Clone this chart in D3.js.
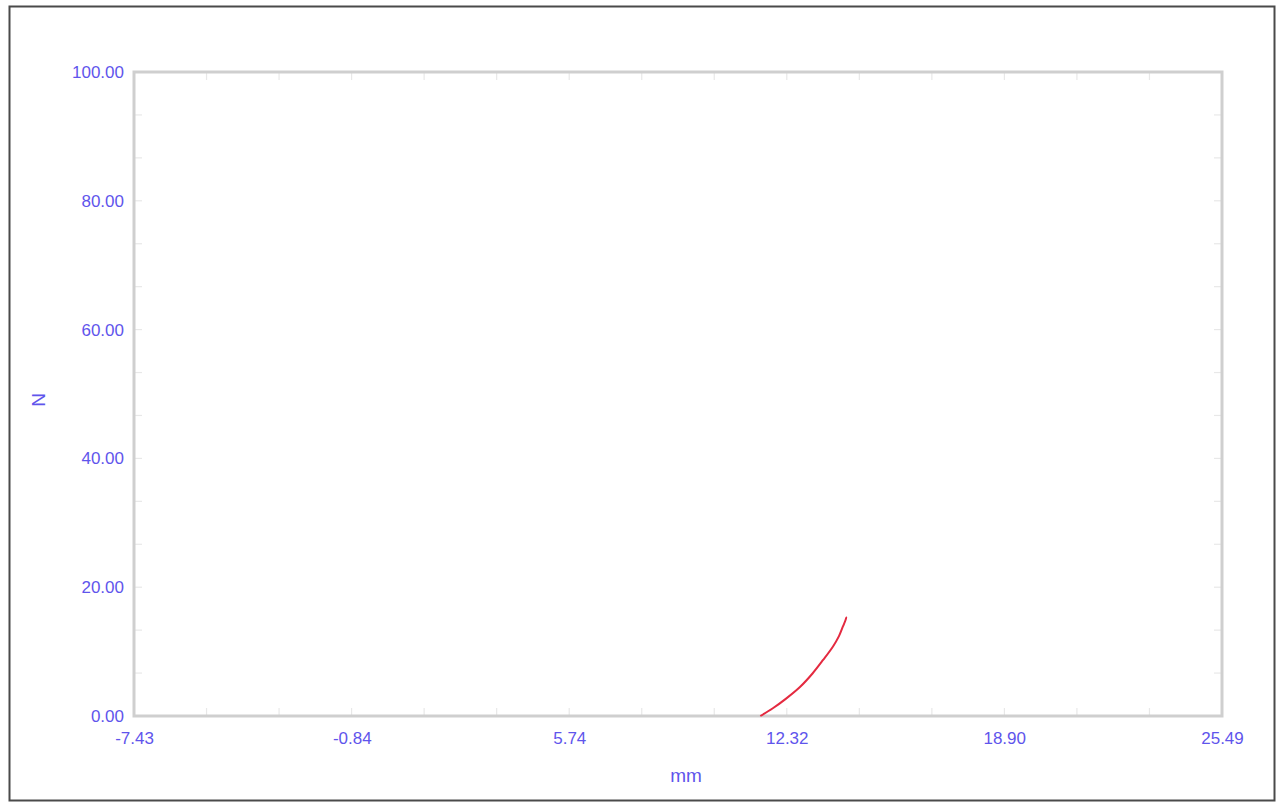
<!DOCTYPE html>
<html>
<head>
<meta charset="utf-8">
<script src="https://cdn.jsdelivr.net/npm/d3@7"></script>
<style>
  html, body { margin: 0; padding: 0; background: #fff; }
  svg { display: block; }
  text { font-family: "Liberation Sans", Arial, sans-serif; }
</style>
</head>
<body>
<svg id="chart" width="1282" height="802"></svg>
<script>
// Axis tick labels
const xTickValues = [-7.43, -0.84, 5.74, 12.32, 18.90, 25.49];
const yTickValues = [0, 20, 40, 60, 80, 100];

// Force (N) vs displacement (mm) trace
const displacement = [11.52, 11.90, 12.30, 12.72, 13.10, 13.42, 13.72, 13.90, 14.02, 14.10, 14.12, 14.08];
const force        = [0.0,   1.2,   2.7,   4.5,   6.6,   8.7,   10.8,  12.4,  13.9,  14.9,  15.3,  14.6];

const svg = d3.select("#chart");
const margin = { left: 134, top: 72, right: 1222, bottom: 716 };

const x = d3.scaleLinear().domain([xTickValues[0], xTickValues[xTickValues.length - 1]]).range([margin.left, margin.right]);
const y = d3.scaleLinear().domain([0, 100]).range([margin.bottom, margin.top]);

const labelColor = "#5f55ec";
const frameColor = "#cfcfcf";
const tickColor = "#e8e8e8";
const fmt = d => d3.format(".2f")(d).replace("\u2212", "-");

// Outer border
svg.append("rect")
  .attr("x", 9.5).attr("y", 6.5).attr("width", 1265).attr("height", 794)
  .attr("fill", "#fff").attr("stroke", "#4a4a4a").attr("stroke-width", 2);

// Minor tick positions: 3 subdivisions per labeled interval
const xMinor = d3.range(0, 16).map(i => xTickValues[0] + i * (xTickValues[5] - xTickValues[0]) / 15);
const yMinor = d3.range(0, 16).map(i => i * 100 / 15);

const ticks = svg.append("g").attr("stroke", tickColor).attr("stroke-width", 1.2);
xMinor.forEach(v => {
  ticks.append("line").attr("x1", x(v)).attr("x2", x(v)).attr("y1", margin.bottom).attr("y2", margin.bottom - 8);
  ticks.append("line").attr("x1", x(v)).attr("x2", x(v)).attr("y1", margin.top).attr("y2", margin.top + 8);
});
yMinor.forEach(v => {
  ticks.append("line").attr("y1", y(v)).attr("y2", y(v)).attr("x1", margin.left).attr("x2", margin.left + 8);
  ticks.append("line").attr("y1", y(v)).attr("y2", y(v)).attr("x1", margin.right).attr("x2", margin.right - 8);
});

// Plot frame
svg.append("rect")
  .attr("x", margin.left).attr("y", margin.top)
  .attr("width", margin.right - margin.left).attr("height", margin.bottom - margin.top)
  .attr("fill", "none").attr("stroke", frameColor).attr("stroke-width", 3);

// Axes built with d3 axis generators, labels only
const xAxis = d3.axisBottom(x).tickValues(xTickValues).tickSize(0).tickPadding(16).tickFormat(fmt);
const gx = svg.append("g").attr("transform", `translate(0,${margin.bottom})`).call(xAxis);
gx.select(".domain").remove();
gx.selectAll("text").attr("fill", labelColor).attr("font-size", 17).attr("font-family", "Liberation Sans, Arial, sans-serif");

const yAxis = d3.axisLeft(y).tickValues(yTickValues).tickSize(0).tickPadding(10).tickFormat(fmt);
const gy = svg.append("g").attr("transform", `translate(${margin.left},0)`).call(yAxis);
gy.select(".domain").remove();
gy.selectAll("text").attr("fill", labelColor).attr("font-size", 17).attr("font-family", "Liberation Sans, Arial, sans-serif");

// Axis titles
svg.append("text").attr("x", 686).attr("y", 782)
  .attr("text-anchor", "middle").attr("fill", labelColor).attr("font-size", 19).text("mm");
svg.append("text").attr("transform", `translate(45,400) rotate(-90)`)
  .attr("text-anchor", "middle").attr("fill", labelColor).attr("font-size", 19).text("N");

// Data trace
svg.append("path")
  .datum(force)
  .attr("d", d3.line().x((d, i) => x(displacement[i])).y(d => y(d)).curve(d3.curveCatmullRom))
  .attr("fill", "none").attr("stroke", "#e42a40").attr("stroke-width", 2)
  .attr("stroke-linejoin", "round");
</script>
</body>
</html>
